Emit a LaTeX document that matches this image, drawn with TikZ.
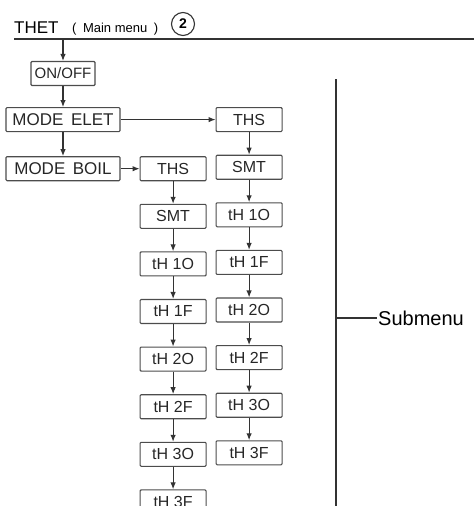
\documentclass[tikz,border=0pt]{standalone}
\usepackage{fontspec}
\setmainfont{Liberation Sans}
\usetikzlibrary{arrows.meta, positioning, calc}

\begin{document}
\begin{tikzpicture}[x=1pt, y=1pt, node distance=22.5pt,
    box/.style={rectangle, draw=black!70, line width=1.1pt, rounded corners=1pt, minimum height=24pt, inner sep=1pt, text=black!85, font=\fontsize{16}{18}\selectfont},
    colbox/.style={box, minimum width=66pt},
    modebox/.style={box, minimum width=114pt, font=\fontsize{17}{18}\selectfont},
    arrow/.style={line width=1.1pt, draw=black!80, -{Latex[length=7pt,width=5.5pt]}},
    rule/.style={line width=1.1pt, draw=black!80}]
    \useasboundingbox (0,0) rectangle (474,-506);
    \clip (0,0) rectangle (474,-506);

    % title line
    \node [anchor=base west, inner sep=0pt, font=\fontsize{17}{18}\selectfont] (thet) at (14,-33) {THET};
    \node [anchor=base west, inner sep=0pt, font=\fontsize{13}{14}\selectfont] (mainmenu) at (72,-32) {(\enspace Main menu\enspace)};
    \node [circle, draw=black!80, line width=1.1pt, minimum size=23pt, inner sep=0pt, font=\fontsize{14}{14}\selectfont\bfseries] (num) at (183,-24) {2};
    \coordinate (hl) at (14,-39);
    \coordinate (hr) at (474,-39);
    \draw [rule] (hl) -- (hr);

    % main menu
    \node [box, minimum width=64pt, font=\fontsize{15}{18}\selectfont] (onoff) at (63,-73.5) {ON/OFF};
    \node [modebox, below=21pt of onoff] (elet) {MODE\, ELET};
    \node [modebox, below=24pt of elet] (boil) {MODE\, BOIL};

    % ELET submenu
    \node [colbox, right=95pt of elet] (rths) {THS};
    \node [colbox, below=of rths] (rsmt) {SMT};
    \node [colbox, below=of rsmt] (ron1) {tH 1O};
    \node [colbox, below=of ron1] (roff1) {tH 1F};
    \node [colbox, below=of roff1] (ron2) {tH 2O};
    \node [colbox, below=of ron2] (roff2) {tH 2F};
    \node [colbox, below=of roff2] (ron3) {tH 3O};
    \node [colbox, below=of ron3] (roff3) {tH 3F};

    % BOIL submenu
    \node [colbox, right=19pt of boil] (lths) {THS};
    \node [colbox, below=of lths] (lsmt) {SMT};
    \node [colbox, below=of lsmt] (lon1) {tH 1O};
    \node [colbox, below=of lon1] (loff1) {tH 1F};
    \node [colbox, below=of loff1] (lon2) {tH 2O};
    \node [colbox, below=of lon2] (loff2) {tH 2F};
    \node [colbox, below=of loff2] (lon3) {tH 3O};
    \node [colbox, below=of lon3] (loff3) {tH 3F};

    \draw [arrow] (onoff.north |- hl) -- (onoff.north);
    \draw [arrow] (onoff.south) -- (onoff.south |- elet.north);
    \draw [arrow] (elet.south) -- (boil.north);
    \draw [arrow] (elet) -- (rths);
    \draw [arrow] (boil) -- (lths);

    \draw [arrow] (rths) -- (rsmt);
    \draw [arrow] (rsmt) -- (ron1);
    \draw [arrow] (ron1) -- (roff1);
    \draw [arrow] (roff1) -- (ron2);
    \draw [arrow] (ron2) -- (roff2);
    \draw [arrow] (roff2) -- (ron3);
    \draw [arrow] (ron3) -- (roff3);

    \draw [arrow] (lths) -- (lsmt);
    \draw [arrow] (lsmt) -- (lon1);
    \draw [arrow] (lon1) -- (loff1);
    \draw [arrow] (loff1) -- (lon2);
    \draw [arrow] (lon2) -- (loff2);
    \draw [arrow] (loff2) -- (lon3);
    \draw [arrow] (lon3) -- (loff3);

    % submenu bracket
    \coordinate (vtop) at (336,-79);
    \coordinate (vbot) at (336,-510);
    \node [anchor=west, inner sep=1pt, font=\fontsize{20}{22}\selectfont] (sub) at (377,-318) {Submenu};
    \draw [rule] (vtop) -- (vbot);
    \draw [rule] (vtop |- sub.west) -- (sub.west);
\end{tikzpicture}
\end{document}
